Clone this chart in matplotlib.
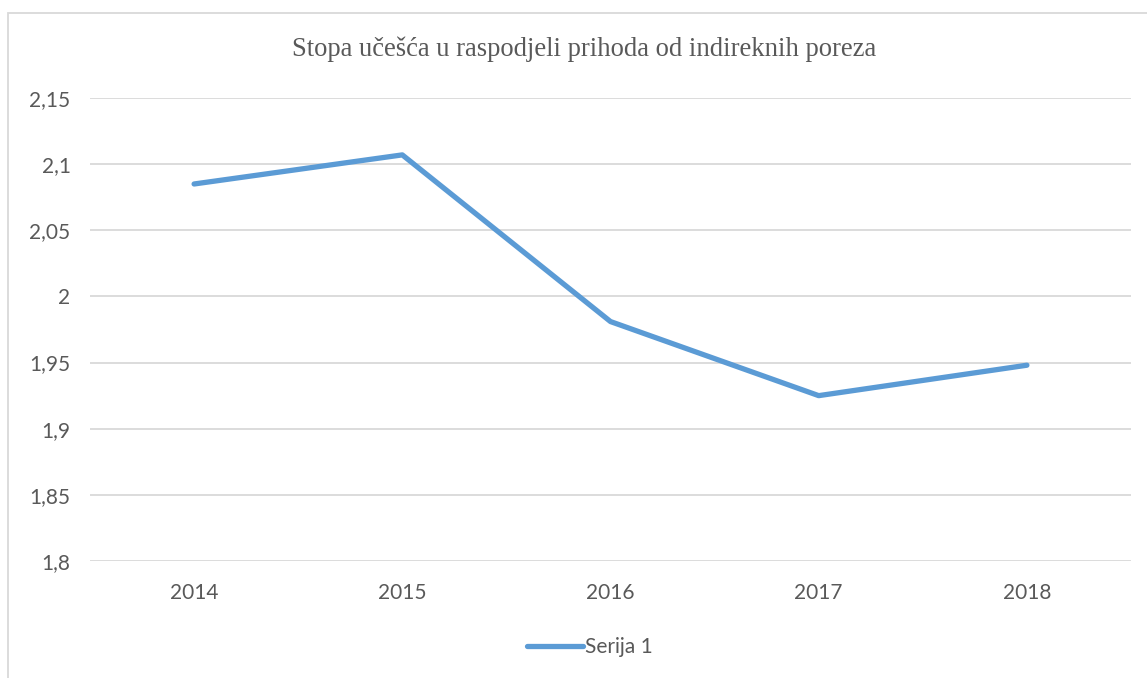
import matplotlib.pyplot as plt
from matplotlib.patches import Rectangle

godine = ['2014', '2015', '2016', '2017', '2018']
stopa = [2.085, 2.107, 1.981, 1.925, 1.948]
y_ticks = [1.8, 1.85, 1.9, 1.95, 2.0, 2.05, 2.1, 2.15]
y_labels = ['1,8', '1,85', '1,9', '1,95', '2', '2,05', '2,1', '2,15']

W, H = 1147, 678
fig = plt.figure(figsize=(W / 100, H / 100), dpi=100)
ax = fig.add_axes([90 / W, 1 - 561 / H, (1131 - 90) / W, (561 - 98) / H])

# okvir grafikona (ide izvan slike desno i dolje)
fig.patches.append(Rectangle((8 / W, -0.05), 1.1, 1 - 13 / H + 0.05, transform=fig.transFigure,
                             fill=False, edgecolor='#d9d9d9', linewidth=1.3))

x = list(range(len(godine)))
ax.plot(x, stopa, color='#5b9bd5', linewidth=3.8, solid_capstyle='round', label='Serija 1', zorder=3)

ax.set_xlim(-0.5, 4.5)
ax.set_ylim(1.8, 2.15)
ax.set_yticks(y_ticks)
ax.set_yticklabels(y_labels)
ax.set_xticks(x)
ax.set_xticklabels(godine)
ax.grid(axis='y', color='#d9d9d9', linewidth=1.3)
ax.set_axisbelow(True)
for s in ax.spines.values():
    s.set_visible(False)
ax.tick_params(length=0, labelsize=15, labelcolor='#595959', pad=14, labelfontfamily='Lato')
ax.tick_params(axis='x', pad=16)

fig.text(584 / W, 1 - 49 / H, 'Stopa učešća u raspodjeli prihoda od indireknih poreza',
         ha='center', va='center', fontsize=19.2, color='#595959', family='Liberation Serif')

leg = fig.legend(loc='center', bbox_to_anchor=(590 / W, 1 - 647 / H), frameon=False,
                 prop={'family': 'Lato', 'size': 15}, handlelength=2.7, handletextpad=0.1)
for t in leg.get_texts():
    t.set_color('#595959')

fig.savefig('out.png', dpi=100)
